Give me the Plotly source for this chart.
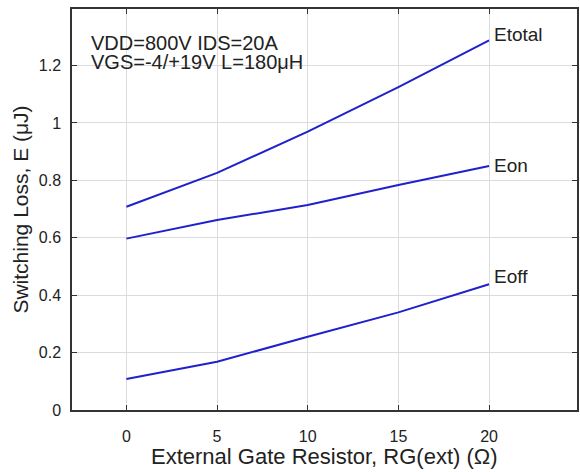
import plotly.graph_objects as go

rg = [0, 5, 10, 15, 20]
etotal = [0.708, 0.826, 0.970, 1.125, 1.288]
eon = [0.597, 0.662, 0.714, 0.784, 0.850]
eoff = [0.108, 0.168, 0.255, 0.340, 0.438]
series_names = ["Etotal", "Eon", "Eoff"]
label_shift = [6, 1, 8]
x_ticks = [0, 5, 10, 15, 20]
y_ticks = [0, 0.2, 0.4, 0.6, 0.8, 1.0, 1.2]
y_ticklabels = ["0", "0.2", "0.4", "0.6", "0.8", "1", "1.2"]
cond_lines = ["VDD=800V IDS=20A", "VGS=-4/+19V L=180μH"]

FONT = "Liberation Sans, Arial, sans-serif"
LINE = "#2020cc"
TXT = "#222222"

fig = go.Figure()
for name, ys in zip(series_names, [etotal, eon, eoff]):
    fig.add_trace(go.Scatter(x=rg, y=ys, mode="lines", name=name,
                             line=dict(color=LINE, width=2), showlegend=False))

for name, ys, sh in zip(series_names, [etotal, eon, eoff], label_shift):
    fig.add_annotation(x=rg[-1], y=ys[-1], text=name, showarrow=False,
                       xanchor="left", yanchor="middle", xshift=3, yshift=sh,
                       font=dict(family=FONT, size=19, color=TXT))

for i, t in enumerate(cond_lines):
    fig.add_annotation(xref="paper", yref="paper", x=0.034, y=1 - (34 + 19 * i) / 401,
                       text=t, showarrow=False, xanchor="left", yanchor="middle",
                       font=dict(family=FONT, size=20, color=TXT))

# x-axis title placed as paper annotation for precise vertical position
fig.add_annotation(xref="paper", yref="paper", x=0.5, y=-(457 - 410) / 401,
                   text="External Gate Resistor, RG(ext) (Ω)", showarrow=False,
                   xanchor="center", yanchor="middle",
                   font=dict(family=FONT, size=22, color=TXT))

axis_common = dict(showline=True, linecolor="#333333", linewidth=1.5, mirror="allticks",
                   ticks="inside", ticklen=5, tickcolor="#333333", showgrid=True,
                   gridcolor="#dcdcdc", gridwidth=1, zeroline=False,
                   tickfont=dict(family=FONT, size=16, color=TXT))

fig.update_xaxes(range=[-3, 24.85], tickvals=x_ticks, ticklabelstandoff=11, **axis_common)
fig.update_yaxes(range=[0, 1.397], tickvals=y_ticks, ticktext=y_ticklabels, ticklabelstandoff=6,
                 title=dict(text="Switching Loss, E (μJ)",
                            font=dict(family=FONT, size=21, color=TXT), standoff=4),
                 **axis_common)

fig.update_layout(width=580, height=472, margin=dict(l=72, r=1, t=9, b=62),
                  plot_bgcolor="white", paper_bgcolor="white",
                  font=dict(family=FONT, color=TXT))

fig.write_html("out.html")
